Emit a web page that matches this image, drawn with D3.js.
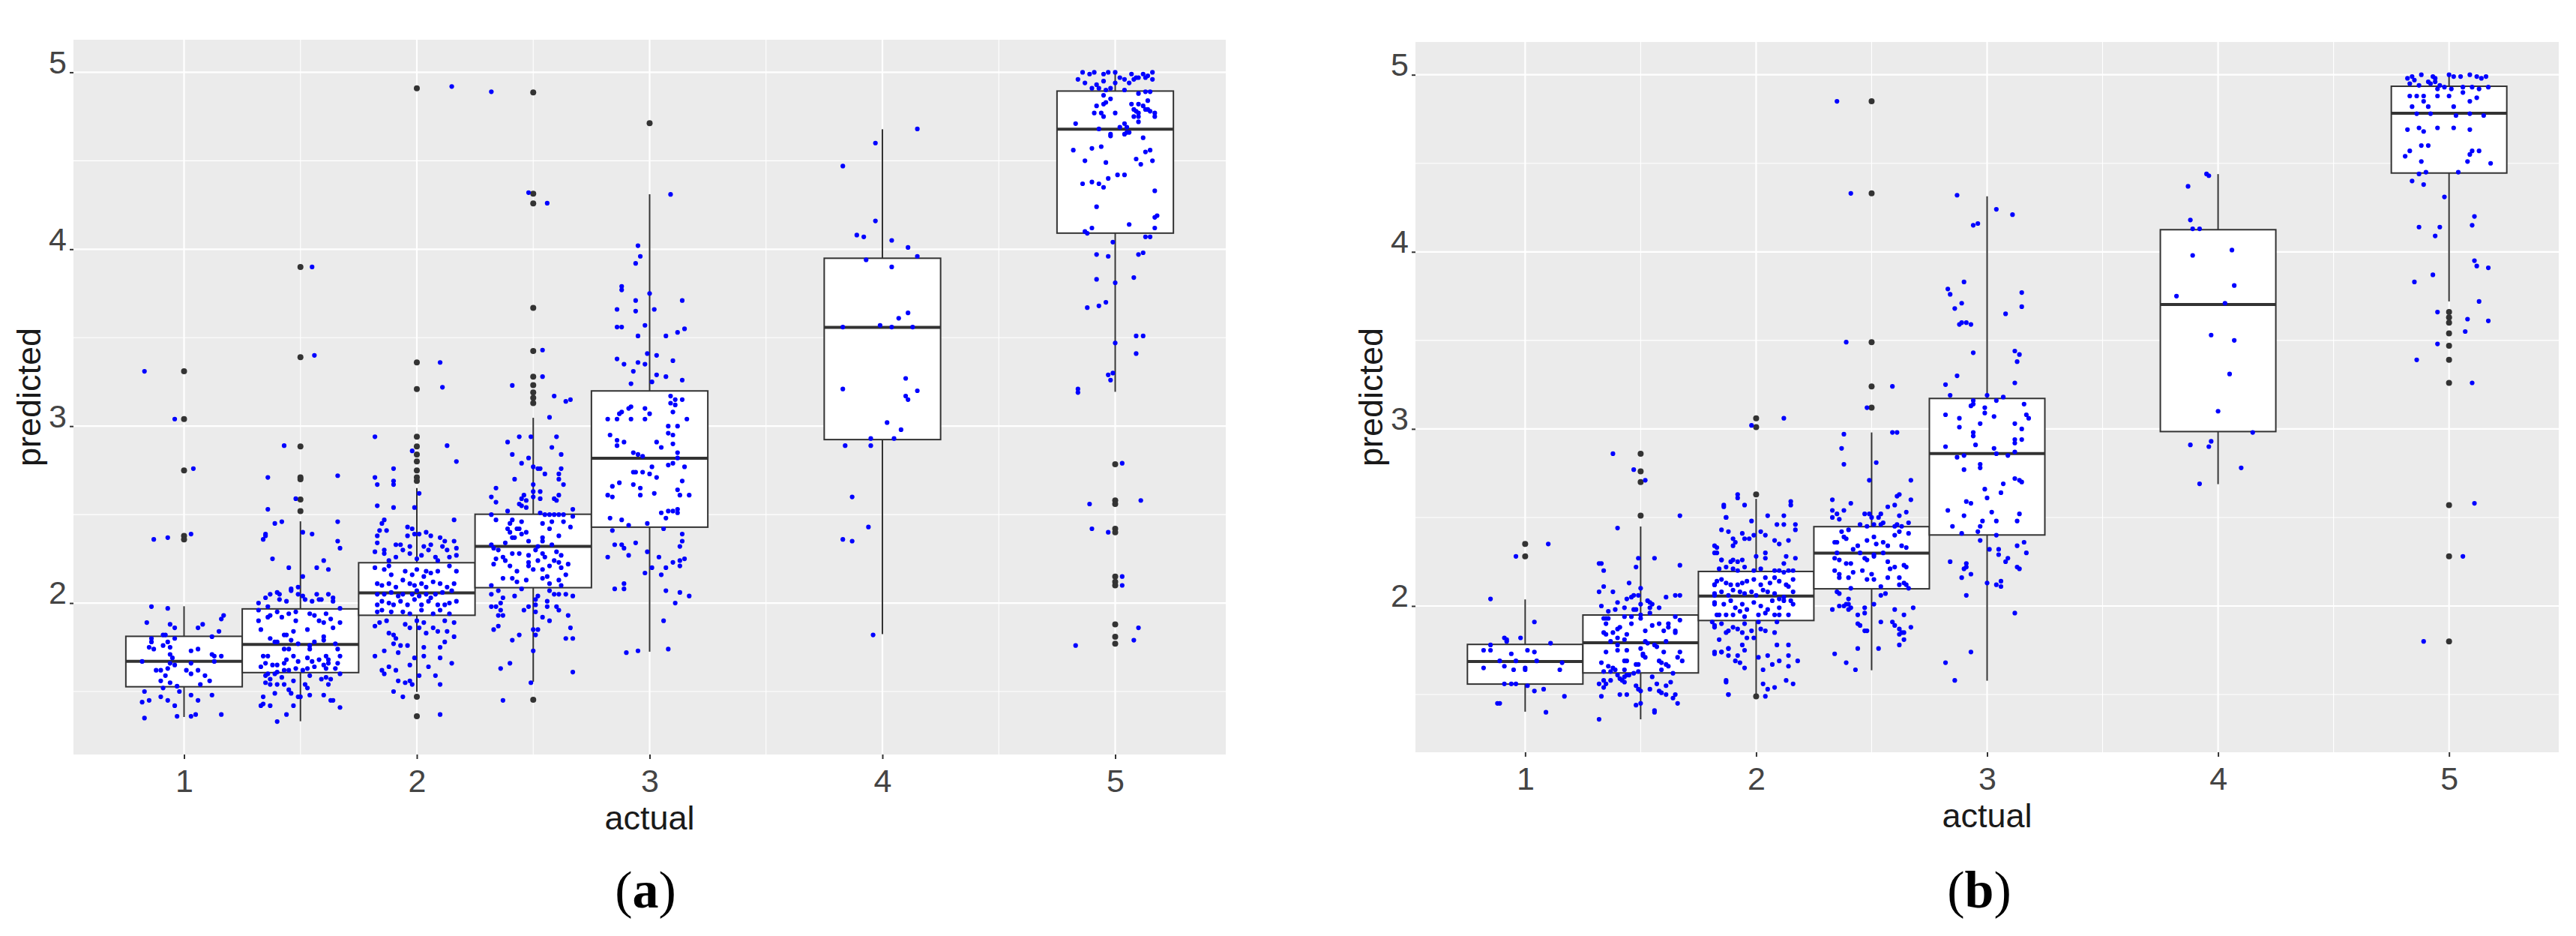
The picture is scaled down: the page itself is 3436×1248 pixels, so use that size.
<!DOCTYPE html>
<html>
<head>
<meta charset="utf-8">
<script src="https://cdn.jsdelivr.net/npm/d3@7"></script>
<style>
  body { margin: 0; background: #fff; }
  svg { display: block; }
</style>
</head>
<body>
<div id="chart"></div>
<script>
const groups = [1, 1.5, 2, 2.5, 3, 4, 5];
const xTicks = [1, 2, 3, 4, 5];
const yTicks = [2, 3, 4, 5];
const xMinor = [1.5, 2.5, 3.5, 4.5];
const yMinor = [1.5, 2.5, 3.5, 4.5];

// (a) box stats per group
const aLower  = [1.356, 1.332, 1.498, 1.555, 1.725, 1.824, 3.194];
const aQ1     = [1.527, 1.607, 1.931, 2.087, 2.429, 2.924, 4.091];
const aMedian = [1.671, 1.766, 2.058, 2.320, 2.819, 3.558, 4.678];
const aQ3     = [1.812, 1.967, 2.228, 2.502, 3.199, 3.949, 4.894];
const aUpper  = [1.982, 2.462, 2.650, 3.047, 4.311, 4.678, 5.000];
const aOutliers = [
  [3.31, 3.04, 2.75, 2.38, 2.36],
  [3.90, 3.39, 2.885, 2.71, 2.70, 2.585, 2.52],
  [4.91, 3.36, 3.21, 2.94, 2.885, 2.84, 2.80, 2.75, 2.71, 2.69, 1.47, 1.36],
  [4.886, 4.314, 4.259, 3.668, 3.425, 3.28, 3.232, 3.19, 3.16, 3.13, 1.453],
  [4.712],
  [],
  [2.785, 2.58, 2.56, 2.42, 2.40, 2.15, 2.12, 2.10, 1.88, 1.81, 1.77]
];

// (b) box stats per group
const bLower  = [1.403, 1.360, 1.500, 1.637, 1.578, 2.688, 3.720];
const bQ1     = [1.559, 1.622, 1.918, 2.097, 2.401, 2.985, 4.445];
const bMedian = [1.686, 1.792, 2.056, 2.299, 2.861, 3.703, 4.783];
const bQ3     = [1.783, 1.949, 2.195, 2.448, 3.172, 4.125, 4.935];
const bUpper  = [2.037, 2.449, 2.605, 2.980, 4.314, 4.439, 4.996];
const bOutliers = [
  [2.35, 2.28],
  [2.86, 2.76, 2.70, 2.51],
  [3.06, 3.01, 2.63, 1.49],
  [4.85, 4.33, 3.49, 3.24, 3.12],
  [],
  [],
  [3.66, 3.63, 3.60, 3.54, 3.47, 3.39, 3.26, 2.57, 2.28, 1.80]
];

// jittered observations: [offset from group, predicted]
const aJit1 = [[.04,2.76],[-.13,2.36],[-.07,2.37],[.03,2.39],[-.14,1.98],[-.07,1.97],[-.16,1.89],[-.06,1.88],[-.04,1.86],[.06,1.86],[.08,1.88],[.16,1.91],[.17,1.93],[.12,1.81],[.15,1.84],[-.14,1.80],[-.14,1.78],[-.15,1.75],[-.13,1.74],[-.09,1.82],[-.08,1.82],[-.04,1.80],[-.09,1.76],[-.07,1.78],[-.06,1.75],[-.06,1.71],[-.05,1.69],[.03,1.73],[.06,1.74],[.12,1.71],[.13,1.70],[.16,1.70],[.13,1.67],[-.18,1.67],[-.12,1.62],[-.10,1.62],[-.07,1.63],[-.04,1.65],[-.06,1.66],[.03,1.66],[.01,1.62],[.03,1.60],[.06,1.62],[.09,1.59],[.11,1.56],[.07,1.54],[-.08,1.59],[-.10,1.56],[-.06,1.55],[-.03,1.53],[-.02,1.50],[-.09,1.52],[-.17,1.50],[-.18,1.44],[-.15,1.45],[-.10,1.47],[-.07,1.45],[-.04,1.42],[.03,1.48],[.06,1.45],[.12,1.48],[-.17,1.35],[-.03,1.36],[.03,1.36],[.05,1.37],[.16,1.37],[-.17,3.31],[-.04,3.04]];
const aJit15 = [[-.07,2.89],[-.14,2.71],[-.02,2.59],[-.14,2.53],[.16,2.72],[-.11,2.45],[-.08,2.46],[-.16,2.36],[-.15,2.38],[-.15,2.39],[.01,2.40],[.05,2.39],[.16,2.46],[.16,2.35],[.17,2.31],[-.12,2.25],[-.05,2.20],[.01,2.15],[.07,2.20],[.10,2.24],[.12,2.19],[.05,3.90],[.06,3.40],
  [-.18,2.00],[-.15,2.03],[-.13,2.05],[-.10,2.06],[-.09,2.05],[-.09,2.02],[-.06,2.01],[-.04,2.07],[-.04,2.08],[-.01,2.09],[-.01,2.05],[.01,2.04],[.02,2.02],[.05,2.01],[.07,2.05],[.08,2.02],[.09,2.02],[.12,2.05],[.14,2.03],[.14,2.01],[-.14,1.98],[.17,1.97],
  [-.18,1.96],[-.18,1.90],[-.17,1.85],[-.14,1.92],[-.13,1.93],[-.10,1.95],[-.08,1.92],[-.05,1.94],[-.02,1.90],[-.02,1.95],[.03,1.85],[.04,1.94],[.06,1.93],[.08,1.90],[.10,1.89],[.11,1.94],[.13,1.91],[.14,1.86],[.17,1.89],[-.13,1.80],[-.11,1.78],[-.10,1.78],[-.07,1.82],[-.06,1.82],[-.04,1.79],[-.03,1.84],[-.01,1.77],[.04,1.76],[.04,1.74],[.06,1.78],[.10,1.81],[.10,1.79],[.15,1.77],[.16,1.74],[-.16,1.70],[-.14,1.70],[-.07,1.74],[-.05,1.74],[-.06,1.68],[-.07,1.66],[-.03,1.70],[-.01,1.67],[.03,1.69],[.05,1.67],[.08,1.68],[.11,1.70],[.12,1.68],[.16,1.66],[.17,1.70],[-.17,1.64],[-.15,1.66],[-.12,1.65],[-.10,1.65],[-.07,1.62],[-.05,1.62],[-.02,1.63],[.01,1.62],[.03,1.63],[.06,1.64],[.10,1.65],[.11,1.63],[.12,1.66],[.15,1.63],[-.14,1.60],[-.11,1.60],[-.10,1.61],[.17,1.60],
  [-.15,1.59],[-.13,1.57],[-.15,1.55],[-.13,1.54],[-.10,1.54],[-.08,1.58],[-.07,1.54],[-.05,1.51],[-.04,1.49],[-.03,1.56],[-.01,1.47],[.00,1.47],[.02,1.54],[.03,1.52],[.04,1.59],[.04,1.48],[.09,1.57],[.11,1.58],[.10,1.48],[.12,1.54],[.13,1.45],[.14,1.45],[.13,1.57],[-.16,1.47],[-.11,1.49],[-.17,1.42],[-.16,1.43],[-.13,1.42],[-.03,1.42],[-.06,1.37],[.17,1.41],[-.10,1.33]];
const aJit2 = [[.15,4.92],[.10,3.36],[.11,3.22],[-.18,2.94],[.13,2.89],[-.02,2.86],[.17,2.80],[-.18,2.71],[-.17,2.67],[-.10,2.76],[-.10,2.69],[-.10,2.67],[-.17,2.55],[-.10,2.54],[-.01,2.54],[.01,2.62],[.16,2.47],[-.14,2.47],[-.15,2.45],[-.16,2.41],[-.13,2.41],[-.17,2.38],[-.17,2.34],[-.18,2.29],[-.14,2.28],[-.14,2.30],[-.09,2.33],[-.07,2.33],[-.04,2.43],[-.02,2.42],[-.04,2.38],[-.03,2.32],[-.01,2.39],[.01,2.39],[.04,2.40],[.06,2.38],[.03,2.32],[.06,2.33],[.10,2.37],[.12,2.35],[.11,2.32],[.13,2.30],[.16,2.35],[.17,2.31],[.17,2.27],[-.09,2.26],[-.06,2.30],[-.03,2.28],[.00,2.25],[.02,2.27],[.05,2.30],[.08,2.26],[.09,2.24],[.14,2.26],[-.12,2.24],
  [-.18,2.20],[-.14,2.19],[-.12,2.21],[-.11,2.16],[-.05,2.18],[-.02,2.16],[.00,2.19],[.03,2.15],[.04,2.18],[.06,2.17],[.09,2.18],[.14,2.21],[.17,2.18],[-.17,2.11],[-.15,2.10],[-.12,2.11],[-.09,2.09],[-.06,2.13],[-.03,2.11],[-.01,2.10],[.02,2.11],[.04,2.09],[.07,2.12],[.10,2.11],[.13,2.09],[.16,2.11],[-.17,2.05],[-.14,2.05],[-.11,2.06],[-.08,2.04],[-.06,2.05],[-.02,2.05],[.00,2.07],[.01,2.04],[.04,2.05],[.06,2.03],[.08,2.05],[.11,2.06],[.15,2.07],[.17,2.01],[-.17,1.99],[-.15,2.01],[-.12,2.00],[-.10,1.99],[-.07,2.01],[-.04,1.99],[-.01,2.02],[.02,1.99],[.05,2.01],[.09,1.99],[.12,1.99],[.14,2.00],[-.17,1.95],[-.15,1.96],[-.11,1.95],[-.06,1.95],[-.03,1.94],[.02,1.96],[.07,1.94],[.10,1.96],[.14,1.94],
  [-.18,1.87],[-.16,1.89],[-.13,1.90],[-.12,1.83],[-.10,1.82],[-.09,1.80],[-.05,1.88],[-.03,1.86],[.00,1.90],[.01,1.86],[.03,1.89],[.04,1.83],[.07,1.86],[.09,1.84],[.12,1.90],[.13,1.84],[.16,1.89],[.16,1.81],[-.14,1.73],[-.18,1.70],[-.10,1.77],[-.08,1.72],[-.07,1.76],[-.04,1.76],[-.03,1.65],[-.01,1.69],[.03,1.70],[.03,1.75],[.05,1.64],[.10,1.75],[.10,1.69],[.12,1.78],[.15,1.66],[-.15,1.62],[-.12,1.64],[-.09,1.62],[-.14,1.60],[-.08,1.56],[-.05,1.55],[-.03,1.56],[-.02,1.54],[.01,1.59],[.08,1.59],[.10,1.54],[-.10,1.50],[-.06,1.47],[.10,1.37]];
const aJit25 = [[-.18,4.89],[-.02,4.32],[.06,4.26],[.04,3.43],[.04,3.28],[-.09,3.23],[.09,3.17],[.14,3.14],[.16,3.15],[.07,3.05],[-.11,2.91],[-.06,2.94],[-.01,2.94],[.10,2.94],[.08,2.88],[.12,2.84],[-.09,2.84],[-.02,2.82],
  [-.05,2.79],[.00,2.77],[.02,2.76],[.03,2.76],[.05,2.73],[.11,2.73],[.11,2.70],[.12,2.76],[.13,2.67],[-.08,2.70],[-.16,2.65],[-.18,2.60],[-.16,2.57],[-.04,2.61],[-.05,2.59],[-.03,2.58],[.00,2.67],[.00,2.63],[.00,2.60],[.03,2.63],[.03,2.59],[.09,2.59],[.10,2.58],[.11,2.61],[-.06,2.56],[-.05,2.55],[-.03,2.54],
  [-.18,2.50],[-.11,2.52],[-.16,2.47],[-.10,2.45],[-.09,2.47],[-.07,2.42],[-.05,2.46],[-.03,2.40],[-.02,2.35],[-.06,2.42],[-.11,2.42],[-.10,2.40],[-.09,2.37],[-.08,2.37],[-.05,2.39],[.03,2.51],[.05,2.50],[.07,2.50],[.09,2.50],[.11,2.50],[.13,2.50],[.17,2.53],[.17,2.49],[.04,2.45],[.08,2.46],[.13,2.46],[.16,2.43],[.07,2.42],[.11,2.38],[.04,2.37],[.04,2.35],[.02,2.32],[.01,2.30],[.08,2.33],[.10,2.29],[.12,2.27],[-.12,2.34],[-.18,2.33],[-.17,2.31],[-.15,2.30],[-.09,2.28],[-.06,2.28],[-.02,2.27],[.04,2.28],[.05,2.26],[.09,2.24],[.11,2.23],[.15,2.22],[-.16,2.25],[-.13,2.26],[-.12,2.24],[-.10,2.21],[-.07,2.18],[-.02,2.23],[-.02,2.21],[.00,2.19],[.02,2.24],[.04,2.19],[.07,2.21],[.12,2.20],[-.17,2.22],[-.13,2.14],[-.09,2.14],[-.07,2.12],[-.03,2.13],[.04,2.14],[.06,2.15],[.07,2.11],[.11,2.13],[.14,2.16],[.12,2.10],
  [-.18,2.10],[-.18,2.05],[-.15,2.07],[-.13,2.03],[-.08,2.04],[-.05,2.08],[.02,2.04],[.07,2.07],[.09,2.05],[.11,2.05],[.14,2.05],[.17,2.04],[-.18,1.98],[-.16,1.98],[-.14,2.00],[-.14,1.96],[-.15,1.93],[-.13,1.93],[-.15,1.87],[-.17,1.85],[-.04,1.96],[-.02,1.98],[.01,2.02],[.01,1.99],[.01,1.95],[.04,1.92],[.06,2.01],[.06,1.98],[.07,1.90],[.10,1.98],[.11,1.96],[.15,1.93],[.00,1.85],[.02,1.85],[.01,1.82],[-.06,1.82],[-.09,1.79],[.16,1.86],[.14,1.80],[.17,1.80],[.00,1.73],[-.10,1.66],[-.14,1.63],[-.01,1.55],[.17,1.61],[-.13,1.45]];
const aJit3 = [[.09,4.31],[-.05,4.02],[-.04,3.96],[-.06,3.92],[-.12,3.79],[-.12,3.77],[.00,3.75],[-.06,3.71],[.14,3.71],[-.14,3.66],[-.06,3.65],[.02,3.66],[-.14,3.56],[-.12,3.56],[-.02,3.57],[-.05,3.51],[.07,3.51],[.12,3.53],[.15,3.55],[-.14,3.38],[-.11,3.35],[-.05,3.36],[-.02,3.35],[-.01,3.41],[.03,3.40],[.10,3.37],[-.07,3.31],[.03,3.29],[.07,3.28],[.14,3.26],[-.08,3.24],[.01,3.25],
  [-.18,3.04],[-.14,3.04],[-.13,3.07],[-.12,3.08],[-.09,3.10],[-.08,3.11],[-.08,3.04],[-.02,3.10],[.00,3.07],[-.02,3.04],[.09,3.17],[.09,3.13],[.11,3.15],[.11,3.12],[.10,3.08],[.14,3.15],[.16,3.04],[.08,3.00],[.12,3.00],[.08,2.96],[.10,2.95],[-.17,2.95],[-.14,2.92],[-.14,2.89],[-.11,2.91],[.03,2.91],[.05,2.88],[.10,2.90],[-.07,2.85],[-.05,2.84],[-.03,2.83],[.12,2.85],[.12,2.82],[.08,2.78],[.10,2.79],[.15,2.77],[-.07,2.74],[-.06,2.74],[-.03,2.74],[.00,2.73],[.01,2.77],[.03,2.71],[-.16,2.66],[-.13,2.68],[-.07,2.67],[-.04,2.65],[-.04,2.61],[.02,2.62],[-.18,2.61],[-.16,2.60],[.14,2.69],[.12,2.64],[.13,2.61],[.17,2.61],[-.17,2.48],[-.12,2.47],[-.09,2.44],[-.01,2.45],[.05,2.51],[.07,2.48],[.08,2.52],[.10,2.52],[.12,2.53],[.12,2.51],[.06,2.42],
  [-.16,2.41],[-.15,2.33],[-.12,2.33],[-.11,2.31],[-.06,2.34],[-.18,2.26],[-.09,2.27],[-.01,2.29],[.01,2.20],[.04,2.26],[-.02,2.17],[.05,2.16],[.07,2.20],[.10,2.23],[.13,2.24],[.13,2.21],[.15,2.25],[.14,2.39],[.14,2.35],[.13,2.32],[-.15,2.08],[-.11,2.08],[-.11,2.11],[.07,2.07],[.13,2.06],[.17,2.04],[.11,2.00],[.06,1.90],[-.10,1.72],[-.05,1.73],[.08,1.74]];
const aJit4 = [[.15,4.68],[-.03,4.60],[-.17,4.47],[-.03,4.16],[-.11,4.08],[-.08,4.07],[.04,4.05],[.11,4.01],[-.07,3.94],[.15,3.96],[.04,3.90],[-.17,3.56],[-.01,3.57],[.04,3.56],[.07,3.61],[.11,3.64],[.13,3.56],[-.17,3.21],[.10,3.27],[.10,3.17],[.11,3.15],[.15,3.20],[.02,3.02],[.08,2.98],[-.05,2.93],[.05,2.93],[-.16,2.89],[-.05,2.89],[-.13,2.60],[-.06,2.43],[-.17,2.36],[-.13,2.35],[-.04,1.82]];
const aJit5 = [[-.14,5.00],[-.11,4.99],[-.09,5.00],[-.05,4.99],[-.03,5.00],[.00,5.00],[.02,4.97],[.04,4.96],[.07,4.99],[.09,4.97],[.12,4.99],[.14,4.98],[.16,5.00],[-.16,4.96],[-.13,4.94],[-.08,4.93],[-.05,4.95],[.00,4.94],[.06,4.94],[.08,4.96],[.10,4.97],[.13,4.97],[.16,4.96],[-.10,4.91],[-.07,4.91],[-.04,4.90],[-.02,4.91],[.04,4.90],[.13,4.89],[.15,4.89],[.10,4.88],[-.05,4.87],[-.02,4.85],[-.08,4.81],[-.05,4.82],[-.04,4.83],[.07,4.82],[.10,4.82],[.12,4.81],[.14,4.84],[.14,4.79],[.08,4.79],[.09,4.78],[.10,4.77],[.13,4.79],[.15,4.78],[.17,4.77],[.17,4.75],[-.09,4.77],[-.06,4.77],[-.05,4.75],[.00,4.77],[.08,4.75],[.10,4.75],[.10,4.72],[-.17,4.71],[.02,4.69],[.04,4.71],[.05,4.69],[-.07,4.68],[-.02,4.65],[-.02,4.64],[.04,4.65],[.05,4.66],[.06,4.66],[.12,4.63],
  [-.18,4.56],[-.13,4.50],[-.10,4.57],[-.06,4.58],[.09,4.51],[.11,4.48],[.13,4.55],[.15,4.56],[.16,4.50],[-.04,4.49],[-.14,4.37],[-.10,4.38],[-.07,4.37],[-.05,4.35],[-.03,4.40],[.01,4.42],[.04,4.42],[.17,4.33],[-.08,4.24],[.06,4.14],[.17,4.18],[.18,4.19],[.17,4.12],[-.13,4.10],[-.12,4.09],[-.10,4.12],[-.01,4.04],[.13,4.07],[.15,4.07],[-.08,3.97],[-.03,3.96],[.10,3.97],[.12,3.98],[.00,3.81],[-.08,3.83],[.08,3.84],[-.12,3.67],[-.07,3.68],[-.04,3.70],[.00,3.47],[.09,3.51],[.12,3.51],[.09,3.41],[-.03,3.29],[-.01,3.30],[-.02,3.26],[-.16,3.21],[-.16,3.19],
  [.03,2.79],[-.11,2.56],[.11,2.58],[-.10,2.42],[-.03,2.40],[.03,2.15],[.03,2.10],[.10,1.86],[.08,1.79],[-.17,1.76]];

const bJit1 = [[.10,2.35],[-.04,2.28],[-.15,2.04],[.04,1.91],[-.09,1.82],[-.08,1.81],[-.08,1.80],[-.02,1.82],[-.15,1.78],[-.18,1.75],[-.15,1.75],[-.06,1.73],[.01,1.75],[.04,1.74],[.11,1.79],[-.11,1.69],[-.09,1.66],[-.04,1.69],[.05,1.69],[.16,1.68],[-.18,1.65],[-.05,1.64],[.00,1.64],[.00,1.65],[.15,1.64],[-.09,1.56],[-.06,1.56],[-.04,1.56],[.01,1.55],[.04,1.52],[.08,1.53],[.17,1.49],[-.12,1.45],[-.11,1.45],[.09,1.40]];
const bJit15 = [[-.12,2.86],[-.03,2.77],[.02,2.71],[-.10,2.44],[.17,2.51],[-.18,2.24],[-.17,2.24],[-.16,2.20],[-.16,2.11],[-.01,2.27],[-.02,2.22],[.06,2.27],[.17,2.23],[-.05,2.13],[-.18,2.08],[-.12,2.08],[.00,2.10],[.11,2.05],[.15,2.06],[.17,2.06],[-.17,2.00],[-.10,2.02],[-.11,1.98],[-.07,1.99],[-.06,2.04],[-.04,2.05],[-.03,2.06],[-.01,2.06],[-.03,1.98],[-.02,1.98],[.00,2.01],[.03,2.03],[.04,2.02],[.05,2.01],[.04,1.99],[.08,1.99],[-.14,1.97],[-.16,1.93],[-.15,1.93],[-.14,1.93],[-.07,1.94],[-.04,1.94],[.00,1.95],[.00,1.93],[.04,1.96],[.15,1.94],[.17,1.92],[-.15,1.90],[-.04,1.90],[.05,1.89],[.08,1.90],[.12,1.90],[.12,1.88],[-.16,1.85],[-.15,1.84],[-.12,1.85],[-.10,1.87],[-.09,1.88],[-.10,1.82],[-.06,1.84],[.02,1.86],[.10,1.86],[.15,1.85],[.15,1.86],[-.13,1.80],[-.07,1.81],[-.10,1.78],[.02,1.80],[.03,1.79],[.06,1.78],[.07,1.77],[.11,1.80],[.00,1.76],[-.15,1.74],[-.10,1.75],[-.06,1.75],[.01,1.73],[.01,1.72],[.10,1.74],[.17,1.74],[.16,1.71],[-.17,1.68],[-.12,1.65],[-.14,1.66],[-.07,1.69],[-.06,1.69],[-.02,1.67],[-.01,1.67],[.02,1.71],[.08,1.69],[.09,1.68],[.11,1.67],[.12,1.66],[.18,1.69],[-.16,1.63],[-.13,1.63],[-.11,1.64],[-.07,1.64],[-.01,1.63],[.09,1.64],[-.10,1.61],[-.07,1.60],[-.06,1.61],[-.05,1.61],[-.03,1.62],[.05,1.60],[.14,1.62],[-.16,1.58],[-.15,1.56],[-.13,1.58],[-.09,1.59],[-.08,1.58],[-.07,1.57],[-.18,1.56],[-.16,1.54],[-.09,1.50],[-.06,1.50],[-.02,1.55],[-.01,1.53],[.00,1.52],[.04,1.53],[.07,1.56],[.08,1.52],[.11,1.55],[.13,1.57],[.09,1.51],[.11,1.50],[.15,1.50],[.14,1.48],[-.17,1.49],[.00,1.45],[-.02,1.44],[.16,1.45],[.06,1.41],[.06,1.40],[-.18,1.36]];
const bJit2 = [[.12,3.06],[-.02,3.02],[-.08,2.63],[-.08,2.61],[-.14,2.57],[-.05,2.57],[-.13,2.50],[-.02,2.48],[.15,2.59],[.15,2.57],[.05,2.51],[.12,2.51],[-.15,2.43],[-.12,2.42],[-.06,2.41],[-.10,2.38],[-.09,2.36],[-.10,2.34],[-.05,2.38],[-.03,2.38],[-.01,2.40],[.02,2.42],[.04,2.40],[.09,2.46],[.12,2.46],[.17,2.46],[.17,2.43],[.08,2.37],[.10,2.35],[.14,2.37],[-.17,2.33],[-.17,2.30],[-.15,2.26],[-.11,2.25],[-.10,2.26],[-.08,2.25],[-.06,2.26],[.00,2.28],[.04,2.30],[.04,2.27],[.12,2.24],[.13,2.28],[.17,2.27],[-.16,2.21],[-.13,2.22],[-.10,2.21],[-.08,2.20],[-.05,2.22],[-.01,2.20],[.02,2.21],[.08,2.20],[.10,2.20],[.12,2.19],[.14,2.20],[.16,2.20],
  [-.18,2.12],[-.17,2.14],[-.15,2.15],[-.13,2.13],[-.11,2.12],[-.08,2.12],[-.06,2.13],[-.04,2.14],[-.01,2.15],[.02,2.12],[.04,2.16],[.06,2.13],[.08,2.16],[.10,2.14],[.13,2.12],[.14,2.11],[.16,2.15],[.16,2.08],[-.18,2.07],[-.15,2.08],[-.12,2.06],[-.10,2.09],[-.07,2.08],[-.05,2.07],[-.02,2.08],[.00,2.06],[.03,2.09],[.05,2.08],[.08,2.07],[.10,2.04],[.12,2.05],[.15,2.03],[-.18,2.02],[-.14,2.01],[-.11,2.03],[-.09,1.99],[-.06,2.01],[-.04,1.98],[-.01,2.02],[.02,2.00],[.05,1.98],[.07,2.03],[.10,1.99],[.12,2.03],[.16,2.01],[-.16,1.95],[-.13,1.95],[-.10,1.95],[-.07,1.97],[-.05,1.94],[.01,1.95],[.04,1.96],[.08,1.95],[.10,1.95],[.14,1.95],
  [-.19,1.91],[-.18,1.88],[-.15,1.90],[-.13,1.85],[-.12,1.86],[-.10,1.88],[-.08,1.87],[-.06,1.85],[-.05,1.90],[-.02,1.86],[-.01,1.82],[.01,1.91],[.02,1.87],[.04,1.86],[.08,1.85],[.09,1.91],[-.16,1.81],[-.06,1.78],[-.04,1.82],[.09,1.78],[.14,1.78],[-.18,1.73],[-.15,1.74],[-.12,1.76],[-.12,1.72],[-.05,1.75],[-.07,1.68],[-.05,1.65],[-.09,1.69],[-.08,1.72],[.01,1.71],[.05,1.72],[.07,1.67],[.10,1.69],[.14,1.72],[.14,1.66],[.18,1.69],[.03,1.64],[.03,1.56],[.05,1.53],[.08,1.54],[.13,1.58],[.16,1.56],[-.13,1.58],[-.12,1.50],[.04,1.49],
  [-.18,2.34],[-.18,2.30],[-.15,2.26],[-.13,2.50],[-.14,2.56],[-.18,1.74],[-.15,1.74],[-.12,1.76],[-.13,1.57],[-.12,1.50],[-.18,2.12],[-.18,2.06],[-.18,2.01],[-.17,1.95],[-.18,1.89]];
const bJit25 = [[-.15,4.85],[-.09,4.33],[-.11,3.49],[.09,3.24],[-.02,3.12],[.09,2.98],[.11,2.98],[-.12,2.97],[-.13,2.89],[-.12,2.80],[.02,2.81],[-.01,2.71],[.17,2.71],[-.17,2.60],[-.09,2.58],[.11,2.62],[.12,2.63],[.17,2.60],[.10,2.57],[.07,2.56],[-.17,2.54],[-.15,2.52],[-.12,2.54],[-.17,2.50],[-.14,2.49],[-.03,2.52],[-.01,2.52],[.00,2.50],[.04,2.52],[.03,2.50],[.12,2.51],[.15,2.53],[.16,2.47],[-.05,2.46],[-.02,2.45],[.01,2.46],[.04,2.46],[.05,2.47],[.10,2.45],[.11,2.46],[.13,2.45],
  [-.13,2.42],[-.12,2.39],[-.11,2.38],[-.10,2.43],[-.16,2.36],[-.15,2.36],[-.06,2.34],[-.08,2.32],[-.02,2.37],[.01,2.39],[.02,2.35],[.05,2.36],[.07,2.34],[.10,2.40],[.12,2.42],[.13,2.34],[.15,2.33],[.16,2.41],[-.15,2.30],[-.16,2.27],[-.14,2.26],[-.11,2.24],[-.09,2.24],[-.05,2.30],[-.03,2.27],[-.02,2.26],[.01,2.28],[.01,2.29],[.05,2.30],[.07,2.25],[.08,2.21],[.10,2.22],[.14,2.23],[.15,2.22],[-.16,2.20],[-.14,2.18],[-.14,2.16],[-.10,2.16],[-.08,2.19],[-.04,2.20],[-.02,2.15],[.00,2.18],[.01,2.15],[.04,2.11],[.07,2.16],[.12,2.16],[.12,2.12],[.15,2.12],[.14,2.13],[.16,2.10],
  [-.15,2.08],[-.14,2.07],[-.09,2.10],[-.10,2.04],[-.14,2.00],[-.11,2.01],[-.09,1.99],[-.10,1.98],[-.12,2.00],[-.10,2.01],[-.17,1.98],[-.06,1.95],[-.03,1.99],[-.03,1.96],[-.06,1.90],[-.05,1.89],[-.03,1.86],[-.02,1.86],[.01,2.01],[.04,2.06],[.06,2.07],[.10,1.98],[.14,1.95],[.18,1.99],[.04,1.91],[.09,1.91],[.10,1.89],[.12,1.87],[.13,1.85],[.14,1.81],[.14,1.85],[.12,1.84],[.17,1.88],[-.06,1.76],[.03,1.76],[.12,1.78],[-.16,1.73],[-.11,1.68],[-.07,1.64]];
const bJit3 = [[-.13,4.32],[.04,4.24],[.11,4.21],[-.06,4.15],[-.04,4.16],[-.10,3.83],[-.17,3.79],[-.16,3.76],[-.11,3.71],[-.14,3.68],[.15,3.77],[.15,3.69],[.08,3.65],[-.12,3.59],[-.11,3.60],[-.09,3.60],[-.07,3.59],[-.06,3.43],[.12,3.44],[.14,3.42],[.13,3.38],[-.13,3.30],[-.18,3.25],[-.16,3.19],[.12,3.26],[.00,3.19],[.07,3.18],
  [-.06,3.16],[-.07,3.13],[-.06,3.14],[-.01,3.12],[-.01,3.09],[.04,3.16],[.16,3.14],[.17,3.08],[.18,3.06],[-.18,3.08],[-.12,3.06],[-.12,3.01],[-.03,3.03],[.03,3.07],[.12,3.03],[.15,3.00],[-.06,2.98],[-.06,2.96],[-.18,2.90],[-.05,2.91],[.12,2.94],[.12,2.92],[.15,2.94],[.03,2.89],[.04,2.86],[-.13,2.84],[-.10,2.85],[.09,2.85],[.12,2.87],[-.10,2.77],[-.03,2.80],[-.03,2.78],[.12,2.72],[.14,2.71],[.15,2.70],[.07,2.69],[.06,2.64],[-.01,2.66],[.00,2.61],[-.09,2.59],[-.07,2.58],[-.17,2.54],[-.10,2.51],[.02,2.53],[.04,2.48],[.13,2.48],[.14,2.52],[-.15,2.45],[-.11,2.41],[-.04,2.42],[-.03,2.45],[-.02,2.48],
  [-.03,2.37],[.01,2.32],[.04,2.40],[.05,2.32],[.05,2.29],[.08,2.25],[.09,2.27],[.13,2.34],[.16,2.36],[.17,2.30],[.13,2.22],[.14,2.21],[-.16,2.25],[-.09,2.24],[-.10,2.21],[-.09,2.22],[-.11,2.16],[-.07,2.18],[.00,2.13],[.04,2.12],[.06,2.14],[.06,2.11],[-.09,2.06],[.12,1.96],[-.07,1.74],[-.18,1.68],[-.14,1.58]];
const bJit4 = [[-.05,4.44],[-.04,4.43],[-.13,4.37],[-.12,4.18],[-.11,4.13],[-.08,4.13],[.06,4.01],[-.11,3.98],[.07,3.81],[-.18,3.75],[.03,3.71],[-.03,3.53],[.07,3.50],[.05,3.31],[.00,3.10],[.15,2.98],[-.12,2.91],[-.04,2.90],[-.03,2.93],[.10,2.78],[-.08,2.69]];
const bJit5 = [[-.18,4.98],[-.16,4.99],[-.15,4.97],[-.12,5.00],[-.09,4.96],[-.07,4.99],[-.06,4.98],[-.04,4.94],[.00,5.00],[.02,4.99],[.05,4.99],[.09,5.00],[.12,4.99],[.14,4.98],[.16,4.99],[-.17,4.95],[-.13,4.94],[-.08,4.95],[-.06,4.96],[-.05,4.92],[-.02,4.93],[.01,4.92],[.06,4.93],[.10,4.93],[.13,4.92],[.17,4.93],[-.17,4.88],[-.14,4.88],[-.11,4.88],[-.05,4.88],[.00,4.88],[.06,4.90],[.09,4.85],[.12,4.87],[-.16,4.82],[-.14,4.78],[-.11,4.85],[-.09,4.82],[-.08,4.78],[.02,4.82],[.03,4.77],[.09,4.78],[.15,4.77],[-.18,4.69],[-.13,4.70],[-.11,4.68],[-.05,4.70],[.02,4.70],[.09,4.69],[-.17,4.57],[-.12,4.60],[-.09,4.60],[.10,4.57],[.13,4.57],[-.19,4.54],[-.12,4.51],[.08,4.51],[.09,4.55],[.18,4.50],[.04,4.45],[-.10,4.45],[-.13,4.44],[-.16,4.40],[-.11,4.38],[-.02,4.31],
  [-.13,4.14],[-.04,4.14],[-.06,4.09],[.10,4.15],[.11,4.20],[-.15,3.83],[-.07,3.87],[.11,3.95],[.12,3.92],[.17,3.91],[.13,3.72],[-.05,3.66],[.08,3.62],[.17,3.61],[.07,3.55],[-.05,3.48],[-.14,3.39],[.10,3.26],[.11,2.58],[.06,2.28],[-.11,1.80]];

const svg = d3.select("#chart").append("svg")
  .attr("width", 3436)
  .attr("height", 1248)
  .style("background", "#fff");

function drawPanel(p) {
  const x = d3.scaleLinear().domain([0.525, 5.475]).range([p.left, p.right]);
  const y = d3.scaleLinear().domain(p.yDomain).range([p.bottom, p.top]);
  const g = svg.append("g");

  g.append("rect")
    .attr("x", p.left).attr("y", p.top)
    .attr("width", p.right - p.left).attr("height", p.bottom - p.top)
    .attr("fill", "#EBEBEB");

  // grid
  g.selectAll(".ymin").data(yMinor).enter().append("line")
    .attr("x1", p.left).attr("x2", p.right)
    .attr("y1", d => y(d)).attr("y2", d => y(d))
    .attr("stroke", "#fff").attr("stroke-width", 1.1);
  g.selectAll(".xmin").data(xMinor).enter().append("line")
    .attr("y1", p.top).attr("y2", p.bottom)
    .attr("x1", d => x(d)).attr("x2", d => x(d))
    .attr("stroke", "#fff").attr("stroke-width", 1.1);
  g.selectAll(".ymaj").data(yTicks).enter().append("line")
    .attr("x1", p.left).attr("x2", p.right)
    .attr("y1", d => y(d)).attr("y2", d => y(d))
    .attr("stroke", "#fff").attr("stroke-width", 2.2);
  g.selectAll(".xmaj").data(xTicks).enter().append("line")
    .attr("y1", p.top).attr("y2", p.bottom)
    .attr("x1", d => x(d)).attr("x2", d => x(d))
    .attr("stroke", "#fff").attr("stroke-width", 2.2);

  // boxplots
  const hw = 0.25;
  groups.forEach((gv, i) => {
    const bx = g.append("g");
    bx.append("line")
      .attr("x1", x(gv)).attr("x2", x(gv))
      .attr("y1", y(p.q3[i])).attr("y2", y(p.upper[i]))
      .attr("stroke", "#333").attr("stroke-width", 2);
    bx.append("line")
      .attr("x1", x(gv)).attr("x2", x(gv))
      .attr("y1", y(p.q1[i])).attr("y2", y(p.lower[i]))
      .attr("stroke", "#333").attr("stroke-width", 2);
    bx.append("rect")
      .attr("x", x(gv - hw)).attr("y", y(p.q3[i]))
      .attr("width", x(gv + hw) - x(gv - hw))
      .attr("height", y(p.q1[i]) - y(p.q3[i]))
      .attr("fill", "#fff").attr("stroke", "#333").attr("stroke-width", 2);
    bx.append("line")
      .attr("x1", x(gv - hw)).attr("x2", x(gv + hw))
      .attr("y1", y(p.median[i])).attr("y2", y(p.median[i]))
      .attr("stroke", "#333").attr("stroke-width", 4);
    bx.selectAll("circle").data(p.outliers[i]).enter().append("circle")
      .attr("cx", x(gv)).attr("cy", d => y(d))
      .attr("r", 4).attr("fill", "#333");
  });

  // jittered points
  groups.forEach((gv, i) => {
    g.append("g").selectAll("circle").data(p.jitter[i]).enter().append("circle")
      .attr("cx", d => x(gv + d[0]))
      .attr("cy", d => y(d[1]))
      .attr("r", 3.1)
      .attr("fill", "#0000FF");
  });

  // axes
  const yAxis = g.append("g")
    .attr("transform", `translate(${p.left},0)`)
    .call(d3.axisLeft(y).tickValues(yTicks).tickFormat(d3.format("d")).tickSize(5).tickPadding(4));
  yAxis.select(".domain").remove();
  yAxis.selectAll("line").attr("stroke", "#333").attr("stroke-width", 2);
  yAxis.selectAll("text")
    .attr("dy", "0.02em")
    .style("font-family", "Liberation Sans, Arial, sans-serif")
    .style("font-size", "43px")
    .attr("fill", "#444");

  const xAxis = g.append("g")
    .attr("transform", `translate(0,${p.bottom})`)
    .call(d3.axisBottom(x).tickValues(xTicks).tickFormat(d3.format("d")).tickSize(6).tickPadding(13));
  xAxis.select(".domain").remove();
  xAxis.selectAll("line").attr("stroke", "#333").attr("stroke-width", 2);
  xAxis.selectAll("text")
    .style("font-family", "Liberation Sans, Arial, sans-serif")
    .style("font-size", "43px")
    .attr("fill", "#444");

  g.append("text")
    .attr("x", (p.left + p.right) / 2)
    .attr("y", p.bottom + 100)
    .attr("text-anchor", "middle")
    .style("font-family", "Liberation Sans, Arial, sans-serif")
    .style("font-size", "45px")
    .attr("fill", "#1a1a1a")
    .text("actual");

  g.append("text")
    .attr("transform", `translate(${p.left - 44},${(p.top + p.bottom) / 2}) rotate(-90)`)
    .attr("text-anchor", "middle")
    .style("font-family", "Liberation Sans, Arial, sans-serif")
    .style("font-size", "45px")
    .attr("fill", "#1a1a1a")
    .text("predicted");

  const lab = g.append("text")
    .attr("x", p.labelX)
    .attr("y", 1210)
    .attr("text-anchor", "middle")
    .style("font-family", "Liberation Serif, Times New Roman, serif")
    .style("font-size", "70px")
    .attr("fill", "#000");
  lab.append("tspan").text("(");
  lab.append("tspan").style("font-weight", "bold").text(p.label);
  lab.append("tspan").text(")");
}

drawPanel({
  left: 98, right: 1635, top: 53, bottom: 1006,
  yDomain: [1.144, 5.184],
  lower: aLower, q1: aQ1, median: aMedian, q3: aQ3, upper: aUpper,
  outliers: aOutliers,
  jitter: [aJit1, aJit15, aJit2, aJit25, aJit3, aJit4, aJit5],
  label: "a", labelX: 861
});

drawPanel({
  left: 1888, right: 3413, top: 56, bottom: 1003,
  yDomain: [1.174, 5.185],
  lower: bLower, q1: bQ1, median: bMedian, q3: bQ3, upper: bUpper,
  outliers: bOutliers,
  jitter: [bJit1, bJit15, bJit2, bJit25, bJit3, bJit4, bJit5],
  label: "b", labelX: 2640
});
</script>
</body>
</html>
